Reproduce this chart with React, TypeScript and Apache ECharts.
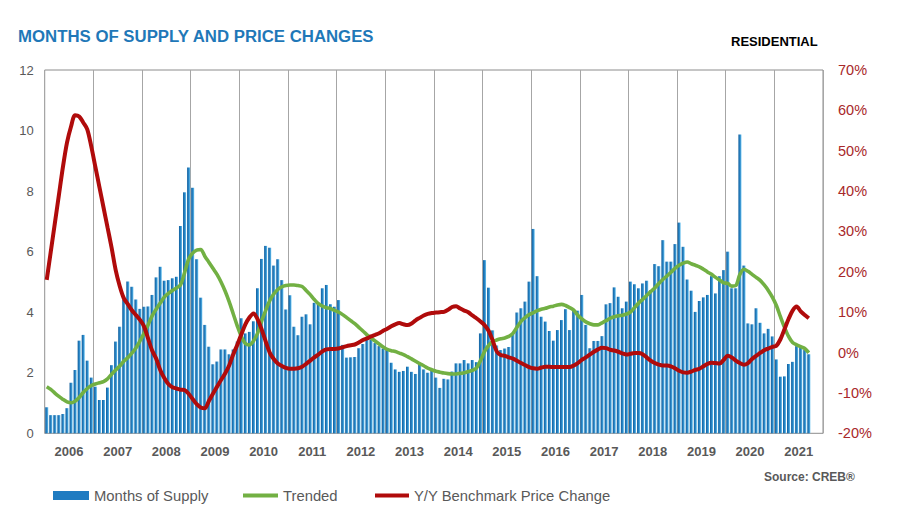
import React, { useEffect, useRef } from "react";
import * as echarts from "echarts";

const years = ["2006","2007","2008","2009","2010","2011","2012","2013","2014","2015","2016","2017","2018","2019","2020","2021"];

// Months of supply (monthly, Jan 2006 - Sep 2021)
const supply2006 = [0.86,0.60,0.60,0.60,0.64,0.83,1.67,2.09,3.06,3.25,2.40,1.84];
const supply2007 = [1.54,1.10,1.10,1.51,2.25,3.03,3.52,4.42,5.01,4.84,4.42,4.11];
const supply2008 = [4.18,4.19,4.57,5.15,5.50,5.04,5.06,5.12,5.17,6.85,7.96,8.78];
const supply2009 = [8.11,5.75,4.48,3.58,2.86,2.28,2.37,2.77,2.77,2.61,2.77,3.03];
const supply2010 = [3.80,3.30,3.35,3.70,4.79,5.76,6.19,6.13,5.54,5.75,5.06,4.09];
const supply2011 = [4.56,3.52,3.24,3.85,3.93,3.60,4.31,4.31,4.79,4.90,4.26,4.18];
const supply2012 = [4.40,2.92,2.50,2.51,2.52,2.81,2.95,3.10,3.10,2.98,2.88,2.80];
const supply2013 = [2.75,2.33,2.11,2.03,2.06,2.20,2.03,1.96,2.28,2.11,2.00,2.08];
const supply2014 = [1.84,1.50,1.80,1.78,2.04,2.31,2.31,2.42,2.31,2.42,2.35,3.30];
const supply2015 = [5.72,4.81,3.40,2.90,2.75,2.80,2.85,3.30,3.99,4.13,4.35,5.01];
const supply2016 = [6.75,5.19,3.85,3.69,3.38,3.06,3.41,3.74,4.10,3.41,4.07,4.05];
const supply2017 = [4.57,3.58,2.81,3.05,3.05,3.21,4.26,4.30,4.82,4.51,4.13,4.35];
const supply2018 = [5.01,4.92,4.79,4.95,5.04,4.73,5.59,5.52,6.38,5.67,5.67,6.25];
const supply2019 = [6.96,6.16,5.08,4.71,4.01,4.37,4.49,4.57,5.19,4.62,5.19,5.39];
const supply2020 = [6.00,4.79,4.79,9.87,5.54,3.63,3.60,4.13,3.65,3.30,3.45,3.20];
const supply2021 = [2.44,1.87,1.88,2.29,2.36,2.88,2.84,2.75,2.61];

// Trended months of supply
const trend2006 = [1.54,1.45,1.33,1.22,1.12,1.04,1.01,1.06,1.18,1.35,1.48,1.58];
const trend2007 = [1.63,1.67,1.71,1.80,1.95,2.09,2.22,2.38,2.50,2.65,2.82,3.05];
const trend2008 = [3.30,3.58,3.88,4.10,4.30,4.50,4.62,4.72,4.80,4.90,5.30,5.75];
const trend2009 = [5.95,6.05,6.07,5.85,5.65,5.45,5.25,5.00,4.70,4.35,3.95,3.55];
const trend2010 = [3.20,2.97,2.92,3.05,3.30,3.70,4.05,4.38,4.60,4.75,4.84,4.88];
const trend2011 = [4.90,4.90,4.88,4.85,4.72,4.58,4.42,4.28,4.20,4.15,4.12,4.06];
const trend2012 = [4.00,3.92,3.82,3.72,3.62,3.50,3.38,3.25,3.15,3.05,2.95,2.85];
const trend2013 = [2.77,2.73,2.70,2.65,2.60,2.53,2.46,2.38,2.30,2.23,2.15,2.10];
const trend2014 = [2.05,2.02,1.99,1.97,1.96,1.96,1.98,2.00,2.04,2.08,2.15,2.40];
const trend2015 = [2.70,2.90,3.03,3.08,3.12,3.15,3.20,3.30,3.50,3.70,3.82,3.92];
const trend2016 = [3.98,4.05,4.10,4.13,4.17,4.20,4.24,4.26,4.22,4.15,4.07,3.90];
const trend2017 = [3.78,3.68,3.62,3.58,3.58,3.65,3.72,3.80,3.85,3.88,3.90,3.94];
const trend2018 = [4.00,4.15,4.30,4.42,4.55,4.68,4.80,4.95,5.08,5.20,5.32,5.45];
const trend2019 = [5.55,5.62,5.66,5.60,5.55,5.50,5.42,5.33,5.25,5.15,5.06,4.97];
const trend2020 = [4.95,4.86,4.88,5.25,5.42,5.35,5.25,5.15,5.05,4.90,4.72,4.50];
const trend2021 = [4.22,3.85,3.50,3.20,3.00,2.92,2.86,2.80,2.66];

// Y/Y benchmark price change (%)
const price2006 = [18.0,25.0,32.0,39.0,46.0,52.0,56.0,58.8,58.5,57.0,55.3,51.0];
const price2007 = [46.0,41.0,36.0,31.0,26.0,20.5,16.5,13.5,12.0,10.5,9.3,8.1];
const price2008 = [6.5,3.5,0.5,-1.5,-4.3,-6.3,-7.8,-8.6,-8.9,-9.2,-9.3,-10.2];
const price2009 = [-11.5,-12.8,-13.6,-13.8,-12.0,-10.2,-8.5,-6.8,-5.2,-3.2,-0.5,1.9];
const price2010 = [4.5,7.0,8.7,9.7,8.3,5.8,2.8,0.0,-1.6,-2.7,-3.3,-3.8];
const price2011 = [-4.0,-4.0,-3.9,-3.5,-2.8,-2.0,-1.2,-0.5,0.3,0.8,0.9,0.9];
const price2012 = [1.0,1.3,1.6,1.8,2.0,2.5,3.1,3.5,4.0,4.4,4.8,5.4];
const price2013 = [5.9,6.5,7.0,7.3,7.0,6.8,7.2,8.0,8.6,9.2,9.6,9.8];
const price2014 = [9.9,10.0,10.1,10.6,11.3,11.5,10.9,10.4,10.0,9.2,8.5,7.7];
const price2015 = [6.8,5.4,3.0,0.3,-0.6,-0.8,-1.2,-1.5,-2.0,-2.6,-3.1,-3.6];
const price2016 = [-3.9,-4.0,-3.7,-3.5,-3.5,-3.6,-3.6,-3.6,-3.6,-3.6,-3.2,-2.6];
const price2017 = [-1.8,-1.2,-0.5,0.2,0.8,1.2,1.1,0.7,0.5,0.2,-0.2,-0.5];
const price2018 = [-0.3,-0.1,-0.1,-0.4,-1.2,-2.0,-2.6,-3.0,-3.2,-3.2,-3.4,-3.9];
const price2019 = [-4.5,-4.9,-5.0,-4.7,-4.3,-4.0,-3.4,-2.8,-2.5,-2.6,-2.7,-1.8];
const price2020 = [-0.8,-1.2,-2.0,-2.6,-3.0,-2.6,-1.6,-0.8,-0.1,0.6,1.0,1.4];
const price2021 = [1.7,3.3,5.8,8.3,10.4,11.4,10.2,9.3,8.5];

const leftTicks = { min: 0, max: 12, interval: 2 };
const rightTicks = { min: -20, max: 70, interval: 10 };

const supply = [
  ...supply2006, ...supply2007, ...supply2008, ...supply2009, ...supply2010, ...supply2011,
  ...supply2012, ...supply2013, ...supply2014, ...supply2015, ...supply2016, ...supply2017,
  ...supply2018, ...supply2019, ...supply2020, ...supply2021,
];
const trend = [
  ...trend2006, ...trend2007, ...trend2008, ...trend2009, ...trend2010, ...trend2011,
  ...trend2012, ...trend2013, ...trend2014, ...trend2015, ...trend2016, ...trend2017,
  ...trend2018, ...trend2019, ...trend2020, ...trend2021,
];
const price = [
  ...price2006, ...price2007, ...price2008, ...price2009, ...price2010, ...price2011,
  ...price2012, ...price2013, ...price2014, ...price2015, ...price2016, ...price2017,
  ...price2018, ...price2019, ...price2020, ...price2021,
];

const months: string[] = [];
years.forEach((y) => {
  for (let m = 1; m <= 12; m++) months.push(`${y}-${m < 10 ? "0" + m : m}`);
});

const FONT = "Liberation Sans, Arial, sans-serif";

export default function App() {
  const ref = useRef<HTMLDivElement>(null);
  useEffect(() => {
    if (!ref.current) return;
    const chart = echarts.init(ref.current, undefined, { renderer: "svg" });
    const barColor = new echarts.graphic.LinearGradient(0, 0, 1, 0, [
      { offset: 0, color: "#12609e" },
      { offset: 0.55, color: "#2784c5" },
      { offset: 1, color: "#6cc4f0" },
    ]);
    const legendText = { color: "#595959", fontSize: 14.8, fontFamily: FONT };
    chart.setOption({
      animation: false,
      backgroundColor: "#ffffff",
      textStyle: { fontFamily: FONT },
      grid: {
        left: 44.7,
        right: 82,
        top: 70,
        bottom: 92.7,
        show: true,
        borderColor: "#8c8c8c",
        borderWidth: 1,
      },
      xAxis: [
        {
          type: "category",
          data: months,
          show: false,
          boundaryGap: true,
        },
        {
          type: "category",
          data: years,
          position: "bottom",
          boundaryGap: true,
          axisLine: { show: false },
          axisTick: { show: false },
          axisLabel: {
            color: "#595959",
            fontSize: 13,
            fontWeight: "bold",
            fontFamily: FONT,
            margin: 12,
          },
          splitLine: { show: true, lineStyle: { color: "#a6a6a6", width: 1 } },
        },
      ],
      yAxis: [
        {
          type: "value",
          ...leftTicks,
          axisLine: { show: false },
          axisTick: { show: false },
          splitLine: { show: false },
          axisLabel: { color: "#595959", fontSize: 13, fontFamily: FONT, margin: 11 },
        },
        {
          type: "value",
          ...rightTicks,
          position: "right",
          axisLine: { show: false },
          axisTick: { show: false },
          splitLine: { show: false },
          axisLabel: {
            color: "#a8282a",
            fontSize: 14.5,
            fontFamily: FONT,
            margin: 15,
            formatter: "{value}%",
          },
        },
      ],
      legend: [
        {
          left: 53,
          top: 488,
          padding: 0,
          icon: "rect",
          itemWidth: 36,
          itemHeight: 9,
          textStyle: legendText,
          data: [{ name: "Months of Supply", itemStyle: { color: "#1f7bc1" } }],
        },
        {
          left: 243,
          top: 488,
          padding: 0,
          icon: "rect",
          itemWidth: 35,
          itemHeight: 4,
          textStyle: legendText,
          data: ["Trended"],
        },
        {
          left: 375,
          top: 488,
          padding: 0,
          icon: "rect",
          itemWidth: 34,
          itemHeight: 4,
          textStyle: legendText,
          data: ["Y/Y Benchmark Price Change"],
        },
      ],
      graphic: [
        {
          type: "text",
          left: 18,
          top: 28,
          style: {
            text: "MONTHS OF SUPPLY AND PRICE CHANGES",
            fill: "#1f78b8",
            font: `bold 16.8px ${FONT}`,
          },
        },
        {
          type: "text",
          left: 731,
          top: 35,
          style: {
            text: "RESIDENTIAL",
            fill: "#000000",
            font: `bold 13px ${FONT}`,
          },
        },
        {
          type: "text",
          left: 764,
          top: 471,
          style: {
            text: "Source: CREB®",
            fill: "#595959",
            font: `bold 12px ${FONT}`,
          },
        },
      ],
      series: [
        {
          name: "Months of Supply",
          type: "bar",
          xAxisIndex: 0,
          yAxisIndex: 0,
          data: supply,
          barCategoryGap: "25%",
          itemStyle: { color: barColor },
          z: 2,
        },
        {
          name: "Trended",
          type: "line",
          xAxisIndex: 0,
          yAxisIndex: 0,
          data: trend,
          symbol: "none",
          smooth: 0.3,
          color: "#72b043",
          lineStyle: { color: "#72b043", width: 3.6 },
          z: 3,
        },
        {
          name: "Y/Y Benchmark Price Change",
          type: "line",
          xAxisIndex: 0,
          yAxisIndex: 1,
          data: price,
          symbol: "none",
          smooth: 0.3,
          color: "#b00b0b",
          lineStyle: { color: "#b00b0b", width: 4 },
          z: 4,
        },
      ],
    });
    return () => chart.dispose();
  }, []);
  return (
    <div
      ref={ref}
      style={{ position: "absolute", left: 0, top: 0, width: 905, height: 526 }}
    />
  );
}
